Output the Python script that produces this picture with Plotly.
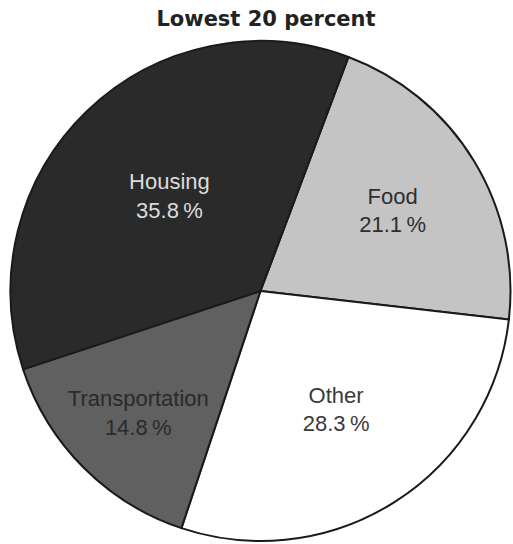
import plotly.graph_objects as go

categories = ["Food", "Other", "Transportation", "Housing"]
percent = [21.1, 28.3, 14.8, 35.8]
slice_colors = ["#c4c4c4", "#ffffff", "#606060", "#2a2a2a"]
text_colors = ["#2e2e2e", "#3a3a3a", "#2a2a2a", "#dcdcdc"]

W, H = 513, 544
fig = go.Figure(go.Pie(
    labels=categories,
    values=percent,
    sort=False,
    direction="clockwise",
    rotation=20.6,
    marker=dict(colors=slice_colors, line=dict(color="#1a1a1a", width=2)),
    texttemplate="%{label}<br>%{value:.1f}\u2009%",
    textposition="inside",
    insidetextorientation="horizontal",
    textfont=dict(family="Liberation Sans, Arial, sans-serif", size=22, color=text_colors),
    showlegend=False,
    hoverinfo="label+value",
    domain=dict(x=[10.5 / W, 510.5 / W], y=[3 / H, 503 / H]),
))
fig.update_layout(
    width=W, height=H,
    margin=dict(l=0, r=0, t=0, b=0),
    paper_bgcolor="white",
    title=dict(text="<b>Lowest 20 percent</b>", x=266 / W, xanchor="center", y=1 - 11 / H, yanchor="top",
               font=dict(family="DejaVu Sans, sans-serif", size=21, color="#222222")),
)
# remove the browser's default 8px body margin so the figure fills the window
fig.write_html("out.html", config={"displayModeBar": False},
               post_script="document.body.style.margin='0';")
